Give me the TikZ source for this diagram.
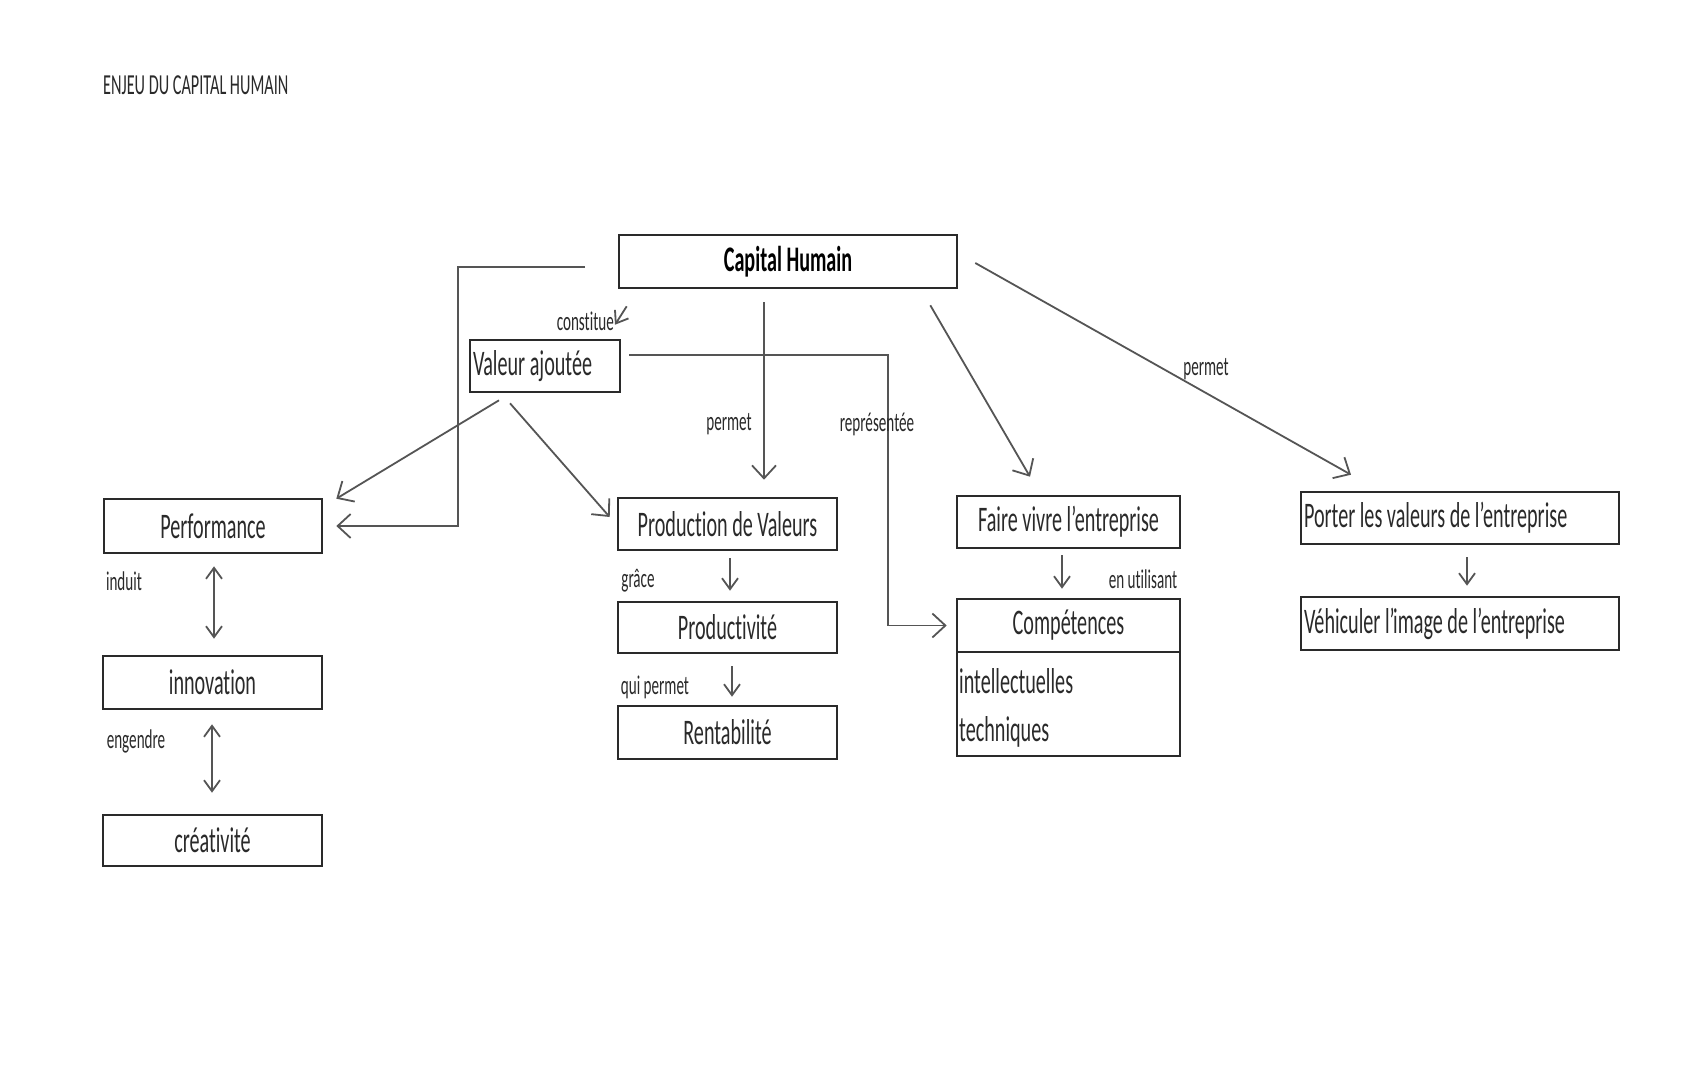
\documentclass[tikz,border=0pt]{standalone}
\usepackage{fontspec}
\setmainfont{Carlito}[FakeStretch=0.56, Ligatures={NoCommon}]
\usetikzlibrary{arrows.meta,calc}
\definecolor{ink}{HTML}{2A2A2A}
\definecolor{wire}{HTML}{555555}
\newcommand{\apos}{'\kern-1.5pt}
\begin{document}
\begin{tikzpicture}[x=1pt,y=-1pt,
  box/.style={draw=ink, line width=2.6pt, inner sep=2pt, text=ink,
    font=\fontsize{36}{40}\selectfont},
  lbl/.style={inner sep=0pt, text=ink, font=\fontsize{27}{30}\selectfont},
  conn/.style={draw=wire, line width=1.8pt, -{Straight Barb[length=13pt,width=24pt]}},
  sconn/.style={draw=wire, line width=1.8pt, -{Straight Barb[length=11pt,width=16pt]}},
  dconn/.style={draw=wire, line width=1.8pt, {Straight Barb[length=11pt,width=16pt]}-{Straight Barb[length=11pt,width=16pt]}}]
\useasboundingbox[fill=white] (0,0) rectangle (1704,1087);

\node[lbl, font=\fontsize{29}{32}\selectfont, anchor=west] (title) at (103,85) {ENJEU DU CAPITAL HUMAIN};

% boxes
\node[box, font=\bfseries\fontsize{36}{40}\selectfont, text=black, minimum width=338pt, minimum height=53pt] (cap) at (788,261.5) {Capital Humain};
\node[box, minimum width=150pt, minimum height=52pt] (val) at (545,366) {\makebox[144pt][l]{Valeur ajoutée}};
\node[box, minimum width=218pt, minimum height=54pt] (perf) at (213,526) {Performance};
\node[box, minimum width=219pt, minimum height=53pt] (innov) at (212.5,682.5) {innovation};
\node[box, minimum width=219pt, minimum height=51pt] (crea) at (212.5,840.5) {créativité};
\node[box, minimum width=219pt, minimum height=52pt] (prod) at (727.5,524) {Production de Valeurs};
\node[box, minimum width=219pt, minimum height=51pt] (prodv) at (727.5,627.5) {Productivité};
\node[box, minimum width=219pt, minimum height=53pt] (rent) at (727.5,732.5) {Rentabilité};
\node[box, minimum width=223pt, minimum height=52pt] (faire) at (1068.5,522) {Faire vivre l\apos entreprise};
\node[box, minimum width=223pt, minimum height=53pt] (comp) at (1068.5,625.5) {Compétences};
\node[box, minimum width=223pt, minimum height=104pt] (comp2) at (1068.5,704) {};
\node[lbl, font=\fontsize{36}{40}\selectfont, anchor=west] (intel) at (959,681) {intellectuelles};
\node[lbl, font=\fontsize{36}{40}\selectfont, anchor=west] (tech) at (959,732) {techniques};
\node[box, minimum width=318pt, minimum height=52pt] (porter) at (1460,518) {\makebox[312pt][l]{Porter les valeurs de l\apos entreprise}};
\node[box, minimum width=318pt, minimum height=53pt] (vehic) at (1460,623.5) {\makebox[312pt][l]{Véhiculer l\apos image de l\apos entreprise}};

% connectors
\coordinate (capL) at (585,267);
\draw[conn, shorten >=13pt] (capL) -| ([xshift=135pt]perf.east) -- (perf.east);
\draw[sconn] ([shift={(9pt,-17pt)}]cap.south west) -- ([shift={(70pt,14pt)}]val.north);
\node[lbl, anchor=east] (lconst) at (614,321) {constitue};
\draw[conn] ([shift={(-24pt,-13pt)}]cap.south) -- ([shift={(36.5pt,17pt)}]prod.north);
\node[lbl] (lperm1) at (729,424) {permet};
\draw[conn, shorten >=9pt] ([shift={(8pt,11pt)}]val.east) -| ([xshift=-68pt]comp.west) -- (comp.west);
\node[lbl] (lrep) at (877,424) {représentée};
\draw[conn] ([shift={(-28pt,-16pt)}]cap.south east) -- ([shift={(-38.5pt,18pt)}]faire.north);
\draw[conn] ([shift={(17pt,-1.5pt)}]cap.east) -- ([shift={(-109pt,16pt)}]porter.north);
\node[lbl] (lperm2) at (1206,369) {permet};
\draw[conn] ([shift={(-46pt,-7pt)}]val.south) -- ([shift={(13pt,-1pt)}]perf.north east);
\draw[conn] ([shift={(-35pt,-10pt)}]val.south) -- ([shift={(-7pt,7pt)}]prod.west);
\draw[sconn] ([shift={(2.5pt,-7pt)}]prod.south) -- ([shift={(2.5pt,10pt)}]prodv.north);
\node[lbl] (lgrace) at (638,581) {grâce};
\draw[sconn] ([shift={(4.5pt,-12pt)}]prodv.south) -- ([shift={(4.5pt,8pt)}]rent.north);
\node[lbl] (lqui) at (655,687) {qui permet};
\draw[sconn] ([shift={(-6.5pt,-6pt)}]faire.south) -- ([shift={(-6.5pt,9pt)}]comp.north);
\node[lbl] (lutil) at (1143,579) {en utilisant};
\draw[sconn] ([shift={(7pt,-12pt)}]porter.south) -- ([shift={(7pt,10pt)}]vehic.north);
\draw[dconn] ([shift={(1pt,-12pt)}]perf.south) -- ([shift={(1.5pt,16pt)}]innov.north);
\node[lbl] (lind) at (124,581) {induit};
\draw[dconn] ([shift={(-0.5pt,-14pt)}]innov.south) -- ([shift={(-0.5pt,21pt)}]crea.north);
\node[lbl] (leng) at (136,741) {engendre};
\end{tikzpicture}
\end{document}
